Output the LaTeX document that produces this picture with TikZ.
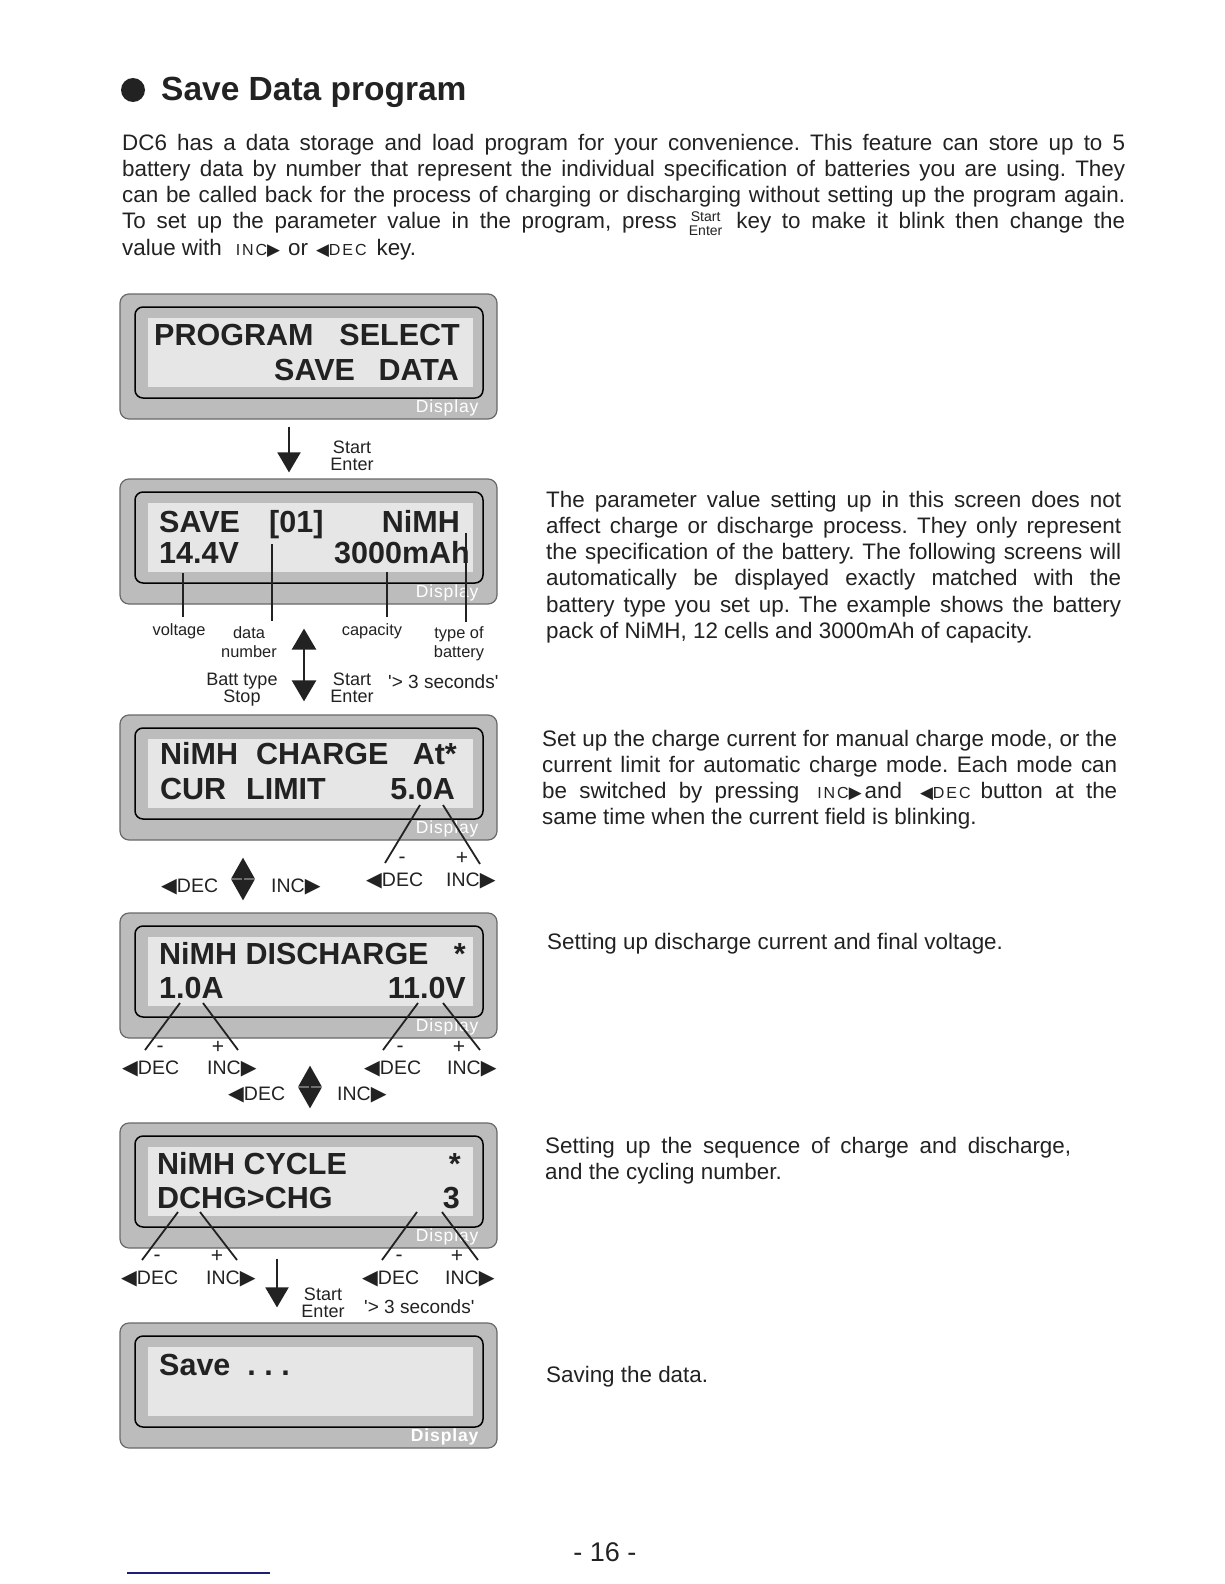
\documentclass[tikz,border=0pt]{standalone}
\usepackage{fontspec}
\setmainfont{Liberation Sans}
\newfontfamily\symfont[Scale=1.05]{DejaVu Sans}
\usetikzlibrary{arrows.meta,calc}
\definecolor{shellGrey}{RGB}{188,188,188}
\definecolor{shellEdge}{RGB}{105,105,105}
\definecolor{screenGrey}{RGB}{230,230,230}
\definecolor{inkGrey}{RGB}{34,34,34}
\definecolor{linkBlue}{RGB}{30,30,120}
\newcommand{\incR}{INC{\symfont ▶}}
\newcommand{\decL}{{\symfont ◀}DEC}
\newcommand{\keyfont}{\fontsize{16}{16}\selectfont\addfontfeatures{LetterSpace=12}}
\newcommand{\startEnter}{{\fontsize{14}{13}\selectfont\begin{tabular}{@{}c@{}}Start\\Enter\end{tabular}}}
\frenchspacing

\begin{document}
\begin{tikzpicture}[x=1pt, y=-1pt,
  every node/.style={inner sep=0pt},
  shell/.style={rectangle, rounded corners=9pt, draw=shellEdge, line width=1.2pt,
    fill=shellGrey, minimum width=377pt, minimum height=125pt},
  frame/.style={rectangle, rounded corners=8pt, draw=black, line width=1.5pt,
    minimum width=348pt, minimum height=91pt},
  screen/.style={rectangle, fill=screenGrey, minimum width=325pt, minimum height=69pt},
  disp/.style={anchor=base east, text=white},
  lcd/.style={anchor=base west, text=inkGrey, font=\fontsize{30.5}{36}\selectfont\bfseries},
  lcdr/.style={lcd, anchor=base east},
  para/.style={anchor=base west, align=justify, text=inkGrey,
    font=\fontsize{22.4}{26.3}\selectfont},
  lbl/.style={anchor=base, align=center, text=inkGrey, font=\fontsize{16.4}{19}\selectfont},
  note/.style={anchor=base, align=center, text=inkGrey, font=\fontsize{18}{17}\selectfont},
  keyl/.style={anchor=base west, text=inkGrey, font=\fontsize{19.5}{20}\selectfont},
  sgn/.style={text=inkGrey, font=\fontsize{21}{22}\selectfont},
  lead/.style={draw=inkGrey, line width=1.8pt},
  bigar/.style={-{Triangle[length=20pt,width=23pt]}, draw=inkGrey, line width=2pt},
  dblar/.style={{Triangle[length=21pt,width=24pt]}-{Triangle[length=21pt,width=24pt]},
    draw=inkGrey, line width=2.6pt},
  updn/.style={{Triangle[length=21pt,width=23pt]}-{Triangle[length=21pt,width=23pt]},
    draw=inkGrey, line width=2.4pt}]
\useasboundingbox (0,0) rectangle (1224,1584);
\fill[white] (0,0) rectangle (1224,1584);

% heading and intro
\node[circle, fill=inkGrey, minimum size=24pt] (dot) at (133,90) {};
\node[anchor=base west, text=inkGrey, font=\fontsize{33.5}{40}\selectfont\bfseries] (title) at (161,101) {Save Data program};
\node[para, text width=1003pt] (intro) at (122,150) {\tolerance=10000 DC6 has a data storage and load program for your convenience. This feature can store up to 5\linebreak
battery data by number that represent the individual specification of batteries you are using. They\linebreak
can be called back for the process of charging or discharging without setting up the program again.\linebreak
To set up the parameter value in the program, press\hspace{12pt}\startEnter\hspace{14pt}key to make it blink then change the\linebreak
value with\hspace{14pt}{\keyfont\incR}\hspace{8pt}or\hspace{8pt}{\keyfont\decL}\hspace{10pt}key.};

% display shells
\foreach \n/\cy/\dw in {1/356.5/\mdseries, 2/541.5/\mdseries, 3/777.5/\mdseries,
    4/975.5/\mdseries, 5/1185.5/\mdseries, 6/1385.5/\bfseries}{
  \node[shell] (d\n) at (308.5,\cy) {};
  \node[frame] (f\n) at ($(d\n.center)+(0.5,-4)$) {};
  \node[screen] (s\n) at ($(d\n.center)+(2,-4)$) {};
  \node[disp, font=\fontsize{17.5}{18}\selectfont\dw\addfontfeatures{LetterSpace=5}] (lab\n) at ($(d\n.south east)+(-19,-7)$) {Display};
}

% screen texts
\node[lcd] (t1a) at (154,345) {PROGRAM};
\node[lcdr] (t1b) at (460,345) {SELECT};
\node[lcd] (t1c) at (274,380) {SAVE};
\node[lcdr] (t1d) at (459,380) {DATA};
\node[lcd] (t2a) at (159,532) {SAVE};
\node[lcd] (t2b) at (269,532) {[01]};
\node[lcdr] (t2c) at (460,532) {NiMH};
\node[lcd] (t2d) at (159,563) {14.4V};
\node[lcdr] (t2e) at (470,563) {3000mAh};
\node[lcd] (t3a) at (160,764) {NiMH};
\node[lcd] (t3b) at (256,764) {CHARGE};
\node[lcdr] (t3c) at (457,764) {At*};
\node[lcd] (t3d) at (160,799) {CUR};
\node[lcd] (t3e) at (246,799) {LIMIT};
\node[lcdr] (t3f) at (455,799) {5.0A};
\node[lcd] (t4a) at (159,964) {NiMH DISCHARGE};
\node[lcdr] (t4b) at (466,964) {*};
\node[lcd] (t4c) at (159,998) {1.0A};
\node[lcdr] (t4d) at (466,998) {11.0V};
\node[lcd] (t5a) at (157,1174) {NiMH CYCLE};
\node[lcdr] (t5b) at (461,1174) {*};
\node[lcd] (t5c) at (157,1208) {DCHG>CHG};
\node[lcdr] (t5d) at (460,1208) {3};
\node[lcd] (t6a) at (159,1375) {Save\ \ .\ .\ .};

% step 1 -> 2
\draw[bigar] ($(d1.south)+(-19.5,7)$) -- ($(d2.north)+(-19.5,-6)$);
\node[note] (se1) at (352,470) {Start\\Enter};

% field labels of screen 2
\coordinate (vA) at (183,573);
\coordinate (nA) at (272,544);
\coordinate (cA) at (387,572);
\coordinate (tA) at (466,533);
\node[lbl] (volt) at (179,635) {voltage};
\node[lbl] (dnum) at (249,657) {data\\number};
\node[lbl] (capa) at (372,635) {capacity};
\node[lbl] (btyp) at (459,657) {type of\\battery};
\draw[lead, shorten >=6pt] (vA) -- (vA |- volt.north);
\draw[lead, shorten >=5pt] (nA) -- (nA |- dnum.north);
\draw[lead, shorten >=6pt] (cA) -- (cA |- capa.north);
\draw[lead, shorten >=4pt] (tA) -- (tA |- btyp.north);

% step 2 <-> 3
\draw[dblar] ($(d2.south)+(-4.5,24)$) -- ($(d3.north)+(-4.5,-13)$);
\node[note] (bts) at (242,702) {Batt type\\Stop};
\node[note] (se2) at (352,702) {Start\\Enter};
\node[anchor=base west, text=inkGrey, font=\fontsize{19}{20}\selectfont] (sec2) at (388,688) {\textquotesingle> 3 seconds\textquotesingle};

% screen 3 keys
\coordinate (p3a) at (420,805); \coordinate (q3a) at (385,863);
\coordinate (p3b) at (443,805); \coordinate (q3b) at (480,864);
\node[sgn] (mi3) at (402,860) {-};
\node[sgn] (pl3) at (462,858) {+};
\node[keyl] (dec3r) at (366,886) {\decL};
\node[keyl] (inc3r) at (446,886) {\incR};
\node[keyl] (dec3) at (161,892) {\decL};
\node[keyl] (inc3) at (271,892) {\incR};
\draw[updn] ($(d3.south)+(-65.5,17)$) -- ($(d4.north)+(-65.5,-12)$);

% screen 4 keys
\coordinate (p4a) at (180,1003); \coordinate (q4a) at (145,1050);
\coordinate (p4b) at (203,1003); \coordinate (q4b) at (238,1050);
\coordinate (p4c) at (418,1003); \coordinate (q4c) at (383,1050);
\coordinate (p4d) at (443,1003); \coordinate (q4d) at (480,1050);
\node[sgn] (mi4a) at (160,1049) {-};
\node[sgn] (pl4a) at (218,1047) {+};
\node[sgn] (mi4b) at (400,1049) {-};
\node[sgn] (pl4b) at (459,1047) {+};
\node[keyl] (dec4a) at (122,1074) {\decL};
\node[keyl] (inc4a) at (207,1074) {\incR};
\node[keyl] (dec4b) at (364,1074) {\decL};
\node[keyl] (inc4b) at (447,1074) {\incR};
\node[keyl] (dec4) at (228,1100) {\decL};
\node[keyl] (inc4) at (337,1100) {\incR};
\draw[updn] ($(d4.south)+(1.5,27)$) -- ($(d5.north)+(1.5,-14)$);

% screen 5 keys
\coordinate (p5a) at (178,1212); \coordinate (q5a) at (142,1260);
\coordinate (p5b) at (200,1212); \coordinate (q5b) at (237,1260);
\coordinate (p5c) at (417,1212); \coordinate (q5c) at (382,1260);
\coordinate (p5d) at (442,1212); \coordinate (q5d) at (478,1260);
\node[sgn] (mi5a) at (157,1258) {-};
\node[sgn] (pl5a) at (217,1256) {+};
\node[sgn] (mi5b) at (399,1258) {-};
\node[sgn] (pl5b) at (457,1256) {+};
\node[keyl] (dec5a) at (121,1284) {\decL};
\node[keyl] (inc5a) at (206,1284) {\incR};
\node[keyl] (dec5b) at (362,1284) {\decL};
\node[keyl] (inc5b) at (445,1284) {\incR};
\foreach \a in {3a,3b,4a,4b,4c,4d,5a,5b,5c,5d}
  \draw[lead] (p\a) -- (q\a);

% step 5 -> 6
\draw[bigar] ($(d5.south)+(-31.5,10)$) -- ($(d6.north)+(-31.5,-15)$);
\node[note] (se5) at (323,1317) {Start\\Enter};
\node[anchor=base west, text=inkGrey, font=\fontsize{19}{20}\selectfont] (sec5) at (364,1313) {\textquotesingle> 3 seconds\textquotesingle};

% notes on the right
\node[para, text width=575pt] (noteA) at (546,507) {\tolerance=10000 The parameter value setting up in this screen does not\linebreak
affect charge or discharge process. They only represent\linebreak
the specification of the battery. The following screens will\linebreak
automatically be displayed exactly matched with the\linebreak
battery type you set up. The example shows the battery\linebreak
pack of NiMH, 12 cells and 3000mAh of capacity.};
\node[para, text width=575pt] (noteB) at (542,746) {\tolerance=10000 Set up the charge current for manual charge mode, or the\linebreak
current limit for automatic charge mode. Each mode can\linebreak
be switched by pressing\hspace{18pt}{\keyfont\incR}\hspace{3pt}and\hspace{18pt}{\keyfont\decL}\hspace{10pt}button at the\linebreak
same time when the current field is blinking.};
\node[para] (noteC) at (547,949) {Setting up discharge current and final voltage.};
\node[para, text width=526pt] (noteD) at (545,1153) {\tolerance=10000 Setting up the sequence of charge and discharge,\linebreak
and the cycling number.};
\node[para] (noteE) at (546,1382) {Saving the data.};

% footer
\node[anchor=base, text=inkGrey, font=\fontsize{27}{30}\selectfont] (pg) at (605,1561) {- 16 -};
\draw[linkBlue, line width=1.3pt] (127,1573) -- (270,1573);
\end{tikzpicture}
\end{document}
